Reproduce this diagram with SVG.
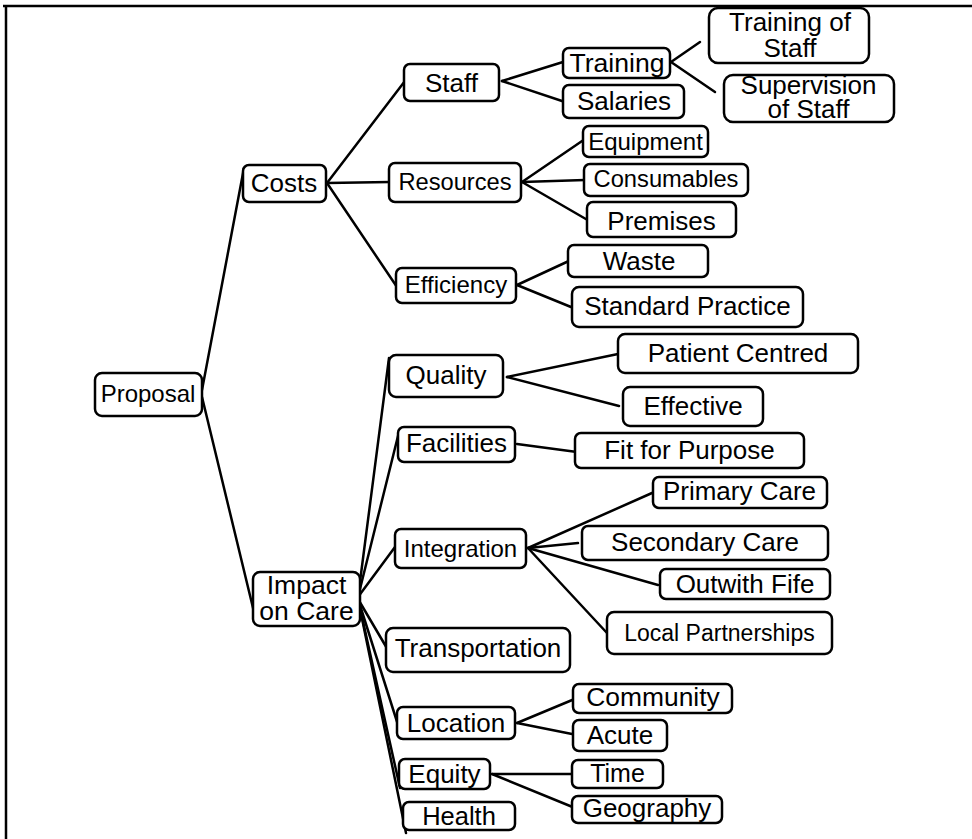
<svg xmlns="http://www.w3.org/2000/svg" width="972" height="839" viewBox="0 0 972 839">
  <style>
    .box { fill: #fff; stroke: #000; stroke-width: 2.5; }
    .lbl { font-family: "Liberation Sans", Arial, sans-serif; fill: #000; text-anchor: middle; }
    .f26 { font-size: 26px; }
    .f24 { font-size: 24px; }
    .f23 { font-size: 23px; }
    .edge line { stroke: #000; stroke-width: 2.5; stroke-linecap: round; }
    .frame { stroke: #000; stroke-width: 2.5; }
  </style>
  <rect width="972" height="839" fill="#fff"/>

  <!-- page frame (top and left edges) -->
  <line class="frame" x1="3" y1="6" x2="972" y2="6"/>
  <line class="frame" x1="6" y1="6" x2="6" y2="839"/>

  <!-- connectors -->
  <g id="connectors" class="edge">
    <line x1="202" y1="390" x2="244" y2="168"/>
    <line x1="202" y1="397" x2="254" y2="612"/>
    <line x1="327" y1="183" x2="408" y2="77"/>
    <line x1="327" y1="183" x2="390" y2="182"/>
    <line x1="327" y1="183" x2="401" y2="293"/>
    <line x1="502" y1="81" x2="563" y2="62"/>
    <line x1="502" y1="81" x2="565" y2="102"/>
    <line x1="671" y1="62" x2="700" y2="42"/>
    <line x1="671" y1="62" x2="715" y2="92"/>
    <line x1="522" y1="182" x2="585" y2="139"/>
    <line x1="522" y1="182" x2="585" y2="180"/>
    <line x1="522" y1="182" x2="591" y2="222"/>
    <line x1="517" y1="285" x2="571" y2="260"/>
    <line x1="517" y1="285" x2="571" y2="307"/>
    <line x1="358" y1="597" x2="389" y2="358"/>
    <line x1="358" y1="597" x2="399" y2="432"/>
    <line x1="358" y1="597" x2="395" y2="547"/>
    <line x1="358" y1="599" x2="388" y2="650"/>
    <line x1="358" y1="599" x2="399" y2="728"/>
    <line x1="358" y1="599" x2="400" y2="788"/>
    <line x1="358" y1="599" x2="406" y2="833"/>
    <line x1="507" y1="377" x2="618" y2="354"/>
    <line x1="507" y1="377" x2="619" y2="406"/>
    <line x1="517" y1="444" x2="577" y2="452"/>
    <line x1="528" y1="548" x2="652" y2="493"/>
    <line x1="528" y1="548" x2="578" y2="543"/>
    <line x1="528" y1="548" x2="658" y2="585"/>
    <line x1="528" y1="548" x2="607" y2="633"/>
    <line x1="517" y1="723" x2="577" y2="698"/>
    <line x1="517" y1="723" x2="577" y2="735"/>
    <line x1="492" y1="774" x2="575" y2="774"/>
    <line x1="492" y1="774" x2="575" y2="808"/>
  </g>

  <!-- nodes -->
  <g id="proposal"><rect class="box" x="95" y="373" width="107" height="43" rx="7"/><text class="lbl f24" x="148" y="402">Proposal</text></g>
  <g id="costs"><rect class="box" x="243" y="165" width="83" height="37" rx="6"/><text class="lbl f26" x="284" y="192">Costs</text></g>
  <g id="impact"><rect class="box" x="253" y="572" width="107" height="54" rx="7"/><text class="lbl" x="306.5" y="594" font-size="26.5">Impact</text><text class="lbl" x="306.5" y="620" font-size="26.5">on Care</text></g>

  <g id="staff"><rect class="box" x="404" y="64" width="95" height="37" rx="6"/><text class="lbl f26" x="451.5" y="91.5">Staff</text></g>
  <g id="resources"><rect class="box" x="389" y="163" width="132" height="39" rx="6"/><text class="lbl" x="455" y="190" font-size="23.7">Resources</text></g>
  <g id="efficiency"><rect class="box" x="396" y="268" width="120" height="35" rx="6"/><text class="lbl f24" x="456" y="293">Efficiency</text></g>

  <g id="training"><rect class="box" x="563" y="48" width="107" height="30" rx="6"/><text class="lbl" x="617" y="72" font-size="26.6">Training</text></g>
  <g id="salaries"><rect class="box" x="563" y="85" width="121" height="33" rx="6"/><text class="lbl f26" x="624" y="110">Salaries</text></g>
  <g id="training-of-staff"><rect class="box" x="709" y="8" width="160" height="55" rx="9"/><text class="lbl f26" x="790" y="30.5">Training of</text><text class="lbl f26" x="790" y="56.5">Staff</text></g>
  <g id="supervision"><rect class="box" x="724" y="75" width="170" height="47" rx="9"/><text class="lbl f26" x="808.5" y="94">Supervision</text><text class="lbl f26" x="808.5" y="117.5">of Staff</text></g>

  <g id="equipment"><rect class="box" x="583" y="126" width="125" height="31" rx="6"/><text class="lbl f24" x="645.5" y="149.5">Equipment</text></g>
  <g id="consumables"><rect class="box" x="584" y="164" width="164" height="32" rx="6"/><text class="lbl" x="666" y="187" font-size="23.7">Consumables</text></g>
  <g id="premises"><rect class="box" x="587" y="202" width="149" height="35" rx="6"/><text class="lbl f26" x="661.5" y="230">Premises</text></g>
  <g id="waste"><rect class="box" x="568" y="245" width="140" height="32" rx="6"/><text class="lbl f26" x="639" y="270">Waste</text></g>
  <g id="standard-practice"><rect class="box" x="572" y="287" width="231" height="40" rx="7"/><text class="lbl f26" x="687.5" y="315">Standard Practice</text></g>

  <g id="quality"><rect class="box" x="389" y="355" width="114" height="42" rx="7"/><text class="lbl f26" x="446" y="383.5">Quality</text></g>
  <g id="facilities"><rect class="box" x="398" y="427" width="117" height="35" rx="6"/><text class="lbl f26" x="456.5" y="451.5">Facilities</text></g>
  <g id="integration"><rect class="box" x="395" y="529" width="131" height="39" rx="6"/><text class="lbl f24" x="460.5" y="557">Integration</text></g>
  <g id="transportation"><rect class="box" x="386" y="628" width="184" height="44" rx="7"/><text class="lbl f26" x="478" y="657">Transportation</text></g>
  <g id="location"><rect class="box" x="397" y="707" width="118" height="32" rx="6"/><text class="lbl f26" x="456" y="731.5">Location</text></g>
  <g id="equity"><rect class="box" x="399" y="759" width="91" height="30" rx="6"/><text class="lbl f26" x="444.5" y="782.5">Equity</text></g>
  <g id="health"><rect class="box" x="403" y="802" width="112" height="28" rx="6"/><text class="lbl" x="459" y="825" font-size="25.5">Health</text></g>

  <g id="patient-centred"><rect class="box" x="618" y="334" width="240" height="39" rx="7"/><text class="lbl f26" x="738" y="362">Patient Centred</text></g>
  <g id="effective"><rect class="box" x="623" y="387" width="140" height="39" rx="7"/><text class="lbl f26" x="693" y="415">Effective</text></g>
  <g id="fit-for-purpose"><rect class="box" x="575" y="433" width="229" height="35" rx="6"/><text class="lbl f26" x="689.5" y="459">Fit for Purpose</text></g>
  <g id="primary-care"><rect class="box" x="653" y="477" width="174" height="31" rx="6"/><text class="lbl f26" x="739.5" y="500">Primary Care</text></g>
  <g id="secondary-care"><rect class="box" x="582" y="526" width="246" height="34" rx="6"/><text class="lbl f26" x="705" y="550.5">Secondary Care</text></g>
  <g id="outwith-fife"><rect class="box" x="660" y="569" width="170" height="30" rx="6"/><text class="lbl f26" x="745" y="592.5">Outwith Fife</text></g>
  <g id="local-partnerships"><rect class="box" x="607" y="612" width="225" height="42" rx="7"/><text class="lbl f23" x="719.5" y="640.5">Local Partnerships</text></g>

  <g id="community"><rect class="box" x="573" y="684" width="159" height="29" rx="6"/><text class="lbl" x="653" y="706" font-size="26.4">Community</text></g>
  <g id="acute"><rect class="box" x="573" y="720" width="94" height="31" rx="6"/><text class="lbl f26" x="620" y="744">Acute</text></g>
  <g id="time"><rect class="box" x="572" y="760" width="91" height="28" rx="6"/><text class="lbl" x="617.5" y="781.5" font-size="25">Time</text></g>
  <g id="geography"><rect class="box" x="572" y="796" width="150" height="27" rx="6"/><text class="lbl f26" x="647" y="816.5">Geography</text></g>
</svg>
